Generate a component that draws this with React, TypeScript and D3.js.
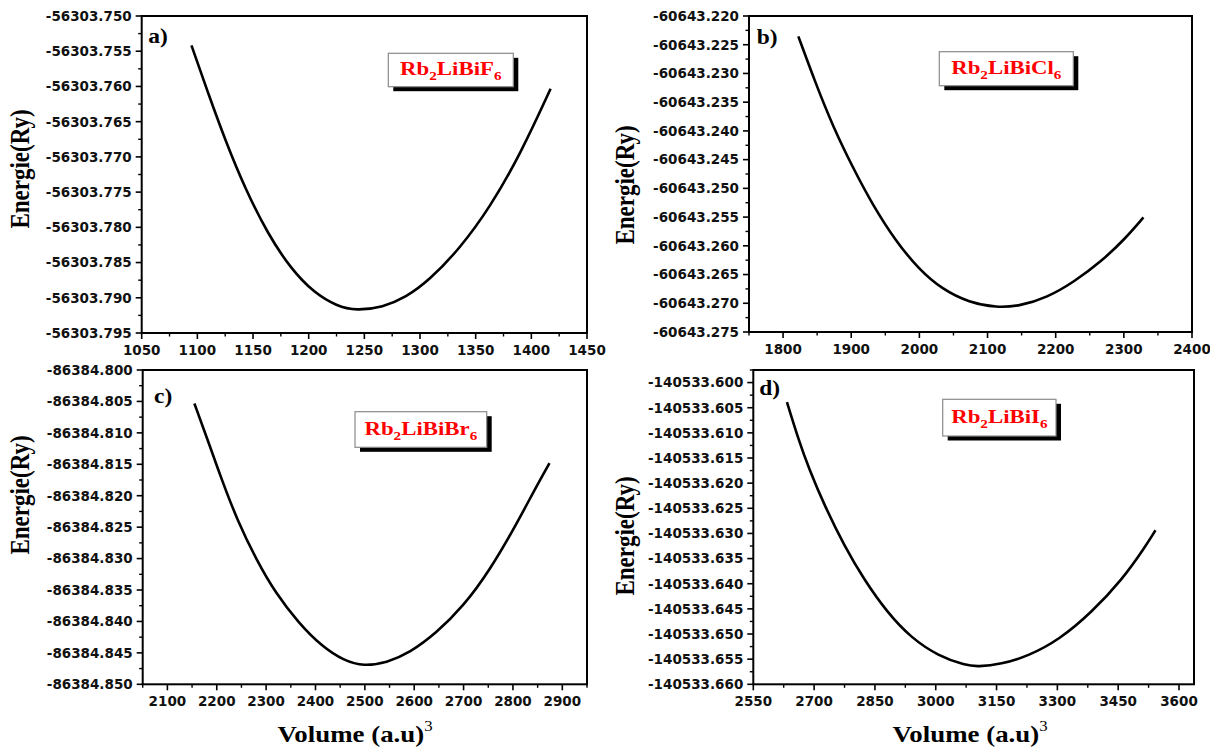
import React from "react";
import * as d3 from "d3";

// ---------- data ----------
const volumeA = [1094.7, 1110.2, 1125.7, 1142.9, 1163.5, 1184.1, 1204.8, 1225.4, 1242.6, 1266.7, 1287.3, 1308.0, 1335.5, 1363.0, 1390.5, 1417.3];
const energyA = [-56303.75417, -56303.7612, -56303.7679, -56303.7745, -56303.7810, -56303.7859, -56303.7893, -56303.7912, -56303.79183, -56303.79135, -56303.78993, -56303.78756, -56303.78306, -56303.77714, -56303.76950, -56303.76033];

const volumeB = [1822.4, 1848, 1873.7, 1902.2, 1930.7, 1965, 1999.2, 2033.4, 2073.3, 2113.2, 2147.4, 2187.3, 2227.2, 2267.1, 2301.3, 2328.7];
const energyB = [-60643.22355, -60643.2318, -60643.23936, -60643.24634, -60643.25273, -60643.25913, -60643.26407, -60643.26756, -60643.26988, -60643.27076, -60643.27047, -60643.26901, -60643.26625, -60643.2627, -60643.25884, -60643.25506];

const volumeC = [2154.7, 2179.6, 2210.6, 2241.6, 2280.4, 2319.2, 2365.8, 2412.3, 2458.9, 2497.7, 2544.2, 2590.8, 2645.1, 2699.4, 2753.7, 2808, 2846.8, 2874];
const energyC = [-86384.80532, -86384.8107, -86384.81756, -86384.82389, -86384.83022, -86384.83549, -86384.84024, -86384.84393, -86384.84631, -86384.8471, -86384.84657, -86384.84499, -86384.84182, -86384.8376, -86384.8318, -86384.82441, -86384.81861, -86384.81481];

const volumeD = [2633, 2659, 2688, 2726.6, 2774.9, 2823, 2881, 2939, 3006.5, 3074, 3103, 3161, 3228.5, 3305.7, 3383, 3460, 3518, 3542];
const energyD = [-140533.6039, -140533.61072, -140533.61733, -140533.62461, -140533.63255, -140533.63916, -140533.64578, -140533.65074, -140533.65438, -140533.65623, -140533.6565, -140533.65603, -140533.65438, -140533.65107, -140533.6458, -140533.6392, -140533.6325, -140533.62937];

const xTicksA = [1050, 1100, 1150, 1200, 1250, 1300, 1350, 1400, 1450];
const yTicksA = [-56303.75, -56303.755, -56303.76, -56303.765, -56303.77, -56303.775, -56303.78, -56303.785, -56303.79, -56303.795];
const xTicksB = [1800, 1900, 2000, 2100, 2200, 2300, 2400];
const yTicksB = [-60643.22, -60643.225, -60643.23, -60643.235, -60643.24, -60643.245, -60643.25, -60643.255, -60643.26, -60643.265, -60643.27, -60643.275];
const xTicksC = [2100, 2200, 2300, 2400, 2500, 2600, 2700, 2800, 2900];
const yTicksC = [-86384.8, -86384.805, -86384.81, -86384.815, -86384.82, -86384.825, -86384.83, -86384.835, -86384.84, -86384.845, -86384.85];
const xTicksD = [2550, 2700, 2850, 3000, 3150, 3300, 3450, 3600];
const yTicksD = [-140533.6, -140533.605, -140533.61, -140533.615, -140533.62, -140533.625, -140533.63, -140533.635, -140533.64, -140533.645, -140533.65, -140533.655, -140533.66];

const panelLetters = ["a)", "b)", "c)", "d)"];
const compounds = [
  ["Rb", "2", "LiBiF", "6"],
  ["Rb", "2", "LiBiCl", "6"],
  ["Rb", "2", "LiBiBr", "6"],
  ["Rb", "2", "LiBiI", "6"],
];
const yTitle = "Energie(Ry)";
const xTitle = "Volume (a.u)";

// ---------- layout ----------
const panels = [
  { vol: volumeA, en: energyA, xT: xTicksA, yT: yTicksA, xDom: [1050, 1450], yDom: [-56303.795, -56303.75],
    L: 141.7, R: 587, T: 16, B: 333, letter: [148.3, 43], box: [388.3, 53.3, 125, 33.4], yLab: [29, 169], xLab: null },
  { vol: volumeB, en: energyB, xT: xTicksB, yT: yTicksB, xDom: [1750, 2400], yDom: [-60643.275, -60643.22],
    L: 749, R: 1192, T: 16, B: 332, letter: [756.7, 44], box: [939.3, 51.7, 134, 34], yLab: [634, 185], xLab: null },
  { vol: volumeC, en: energyC, xT: xTicksC, yT: yTicksC, xDom: [2050, 2950], yDom: [-86384.85, -86384.8],
    L: 142.7, R: 587, T: 370, B: 684.3, letter: [154, 403.3], box: [355, 411.7, 131.7, 35.6], yLab: [29, 495], xLab: [355, 741.7] },
  { vol: volumeD, en: energyD, xT: xTicksD, yT: yTicksD, xDom: [2550, 3637], yDom: [-140533.66, -140533.5975],
    L: 753.3, R: 1194, T: 370, B: 684.3, letter: [759.3, 395], box: [942.7, 399.3, 113.3, 36.7], yLab: [634, 536], xLab: [970, 741.7] },
];

const SANS = "'DejaVu Sans', Arial, sans-serif";
const SERIF = "'Liberation Serif', 'Times New Roman', serif";

function mids(t: number[], dom: number[]) {
  const out: number[] = [];
  const step = t[1] - t[0];
  const lo = Math.min(dom[0], dom[1]);
  const hi = Math.max(dom[0], dom[1]);
  for (let i = -1; i < t.length; i++) {
    const v = t[0] + step * (i + 0.5);
    if (v >= lo - 1e-9 && v <= hi + 1e-9) out.push(v);
  }
  return out;
}

function Panel({ p, i }: { p: any; i: number }) {
  const x = d3.scaleLinear().domain(p.xDom).range([p.L, p.R]);
  const y = d3.scaleLinear().domain(p.yDom).range([p.B, p.T]);
  const pts: [number, number][] = p.vol.map((v: number, k: number) => [v, p.en[k]]);
  const line = d3
    .line<[number, number]>()
    .x((d) => x(d[0]))
    .y((d) => y(d[1]))
    .curve(d3.curveBasis);
  const xMinor = mids(p.xT, p.xDom);
  const yMinor = mids(p.yT, p.yDom);
  const [bx, by, bw, bh] = p.box;
  const comp = compounds[i];
  return (
    <g>
      <path d={line(pts) || ""} fill="none" stroke="#000" strokeWidth={2.6} strokeLinejoin="round" />
      <rect x={p.L} y={p.T} width={p.R - p.L} height={p.B - p.T} fill="none" stroke="#000" strokeWidth={2} />
      {p.yT.map((v: number) => (
        <g key={"yt" + v}>
          <line x1={p.L - 6} x2={p.L} y1={y(v)} y2={y(v)} stroke="#000" strokeWidth={1.6} />
          <text x={p.L - 10} y={y(v)} dy="0.36em" textAnchor="end" fontFamily={SANS} fontWeight="bold" fontSize={13.5} fill="#111">
            {v.toFixed(3)}
          </text>
        </g>
      ))}
      {yMinor.map((v) => (
        <line key={"ym" + v} x1={p.L - 3.5} x2={p.L} y1={y(v)} y2={y(v)} stroke="#000" strokeWidth={1.4} />
      ))}
      {p.xT.map((v: number) => (
        <g key={"xt" + v}>
          <line x1={x(v)} x2={x(v)} y1={p.B} y2={p.B + 6} stroke="#000" strokeWidth={1.6} />
          <text x={x(v)} y={p.B + 21.5} textAnchor="middle" fontFamily={SANS} fontWeight="bold" fontSize={13.5} fill="#111">
            {v}
          </text>
        </g>
      ))}
      {xMinor.map((v) => (
        <line key={"xm" + v} x1={x(v)} x2={x(v)} y1={p.B} y2={p.B + 3.5} stroke="#000" strokeWidth={1.4} />
      ))}
      <g transform={`translate(${p.letter[0]},${p.letter[1]}) scale(1.12,1)`}>
        <text x={0} y={0} fontFamily={SERIF} fontWeight="bold" fontSize={21} fill="#000">
          {panelLetters[i]}
        </text>
      </g>
      <rect x={bx + 5} y={by + 4.5} width={bw} height={bh} fill="#000" />
      <rect x={bx} y={by} width={bw} height={bh} fill="#fff" stroke="#8a8a8a" strokeWidth={1.2} />
      <g transform={`translate(${bx + bw / 2},${by + bh / 2 + 5}) scale(1.17,1)`}>
        <text x={0} y={0} textAnchor="middle" fontFamily={SERIF} fontWeight="bold" fontSize={19.5} fill="#ff0000">
          {comp[0]}
          <tspan fontSize={13} dy={5}>{comp[1]}</tspan>
          <tspan dy={-5}>{comp[2]}</tspan>
          <tspan fontSize={13} dy={5}>{comp[3]}</tspan>
        </text>
      </g>
      <text
        transform={`translate(${p.yLab[0]},${p.yLab[1]}) scale(1.15,1) rotate(-90)`}
        textAnchor="middle"
        fontFamily={SERIF}
        fontWeight="bold"
        fontSize={23}
        fill="#000"
      >
        {yTitle}
      </text>
      {p.xLab && (
        <g transform={`translate(${p.xLab[0]},${p.xLab[1]}) scale(1.12,1)`}>
          <text x={0} y={0} textAnchor="middle" fontFamily={SERIF} fontWeight="bold" fontSize={24} fill="#000">
            {xTitle}
            <tspan fontSize={15} fontWeight="normal" dy={-11}>3</tspan>
          </text>
        </g>
      )}
    </g>
  );
}

export default function App() {
  return (
    <svg
      width={1210}
      height={751}
      viewBox="0 0 1210 751"
      style={{ position: "absolute", left: 0, top: 0, background: "#fff" }}
    >
      <rect x={0} y={0} width={1210} height={751} fill="#fff" />
      {panels.map((p, i) => (
        <Panel key={i} p={p} i={i} />
      ))}
    </svg>
  );
}
